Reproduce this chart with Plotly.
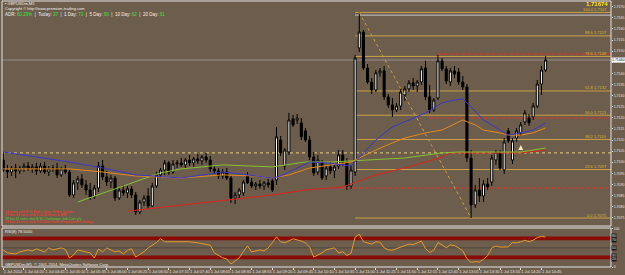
import plotly.graph_objects as go

# ---------------- data ----------------
bar_index = list(range(132))
opens = [1.71010,1.70965,1.70956,1.70974,1.70961,1.70974,1.70983,1.70970,1.70979,1.70961,
         1.70983,1.70956,1.70970,1.70974,1.70943,1.70970,1.70956,1.70853,1.70907,1.70925,
         1.70898,1.70875,1.70844,1.70884,1.70983,1.70934,1.70911,1.70929,1.70839,1.70875,
         1.70862,1.70880,1.70853,1.70776,1.70821,1.70848,1.70803,1.70893,1.70943,1.70965,
         1.70997,1.70956,1.70992,1.70997,1.70988,1.71010,1.70997,1.71015,1.71006,1.71024,
         1.71010,1.70970,1.70961,1.70938,1.70956,1.70929,1.70839,1.70853,1.70862,1.70938,
         1.70911,1.70893,1.70902,1.70893,1.70907,1.70916,1.70920,1.71100,1.70983,1.71046,
         1.71195,1.71190,1.71177,1.71141,1.71100,1.71024,1.70956,1.70997,1.70938,1.70979,
         1.70961,1.70983,1.71033,1.71001,1.70893,1.70956,1.71514,1.71586,1.71424,1.71361,
         1.71325,1.71402,1.71411,1.71294,1.71258,1.71235,1.71253,1.71303,1.71330,1.71357,
         1.71343,1.71361,1.71424,1.71294,1.71235,1.71289,1.71456,1.71420,1.71361,1.71411,
         1.71406,1.71361,1.71339,1.71019,1.70808,1.70875,1.70848,1.70902,1.70911,1.71010,
         1.71042,1.70965,1.71141,1.71010,1.71109,1.71132,1.71181,1.71199,1.71204,1.71253,
         1.71352,1.71415]
highs = [1.71046,1.70988,1.70983,1.70992,1.70983,1.70997,1.71001,1.70992,1.70997,1.70997,
         1.71001,1.70983,1.70988,1.70997,1.70979,1.70988,1.70965,1.70920,1.70938,1.70947,
         1.70920,1.70907,1.70898,1.71001,1.71010,1.70961,1.70943,1.70938,1.70884,1.70898,
         1.70893,1.70893,1.70866,1.70830,1.70853,1.70884,1.70907,1.70956,1.70974,1.71010,
         1.71006,1.71010,1.71010,1.71019,1.71019,1.71033,1.71024,1.71037,1.71033,1.71042,
         1.71028,1.70983,1.70974,1.70970,1.70974,1.70938,1.70866,1.70884,1.70920,1.70956,
         1.70929,1.70911,1.70920,1.70916,1.70925,1.70929,1.71159,1.71118,1.71064,1.71222,
         1.71213,1.71217,1.71199,1.71154,1.71118,1.71046,1.71033,1.71010,1.70988,1.71001,
         1.70988,1.71055,1.71055,1.71019,1.70988,1.71483,1.71674,1.71595,1.71442,1.71379,
         1.71415,1.71424,1.71433,1.71307,1.71289,1.71267,1.71334,1.71343,1.71370,1.71379,
         1.71370,1.71433,1.71456,1.71348,1.71289,1.71483,1.71469,1.71433,1.71424,1.71433,
         1.71424,1.71388,1.71352,1.71055,1.70898,1.70929,1.70920,1.70929,1.71033,1.71055,
         1.71055,1.71109,1.71154,1.71109,1.71154,1.71181,1.71235,1.71217,1.71267,1.71370,
         1.71433,1.71478]
lows = [1.70956,1.70929,1.70938,1.70929,1.70947,1.70956,1.70961,1.70952,1.70943,1.70952,
        1.70947,1.70938,1.70956,1.70929,1.70934,1.70947,1.70844,1.70839,1.70875,1.70884,
        1.70853,1.70830,1.70835,1.70866,1.70920,1.70893,1.70884,1.70826,1.70830,1.70848,
        1.70839,1.70839,1.70763,1.70767,1.70803,1.70790,1.70799,1.70884,1.70929,1.70943,
        1.70943,1.70947,1.70974,1.70979,1.70974,1.70983,1.70979,1.70992,1.70988,1.70997,
        1.70956,1.70947,1.70925,1.70925,1.70920,1.70817,1.70812,1.70835,1.70848,1.70902,
        1.70884,1.70875,1.70880,1.70875,1.70884,1.70866,1.70898,1.71028,1.70965,1.71033,
        1.71159,1.71172,1.71100,1.71091,1.71010,1.70938,1.70943,1.70920,1.70920,1.70947,
        1.70929,1.70970,1.70983,1.70875,1.70880,1.70938,1.71496,1.71415,1.71352,1.71307,
        1.71316,1.71384,1.71280,1.71244,1.71204,1.71226,1.71235,1.71276,1.71316,1.71325,
        1.71316,1.71348,1.71280,1.71222,1.71226,1.71280,1.71410,1.71352,1.71343,1.71379,
        1.71348,1.71325,1.71001,1.70749,1.70794,1.70821,1.70821,1.70875,1.70893,1.70988,
        1.70965,1.70947,1.71087,1.70992,1.71091,1.71118,1.71168,1.71163,1.71190,1.71244,
        1.71303,1.71406]
closes = [1.70965,1.70956,1.70974,1.70961,1.70974,1.70983,1.70970,1.70979,1.70961,1.70983,
          1.70956,1.70970,1.70974,1.70943,1.70970,1.70956,1.70853,1.70907,1.70925,1.70898,
          1.70875,1.70844,1.70884,1.70983,1.70934,1.70911,1.70929,1.70839,1.70875,1.70862,
          1.70880,1.70853,1.70776,1.70821,1.70839,1.70803,1.70893,1.70943,1.70965,1.70997,
          1.70956,1.70992,1.70997,1.70988,1.71010,1.70997,1.71015,1.71006,1.71024,1.71010,
          1.70970,1.70961,1.70938,1.70956,1.70929,1.70839,1.70853,1.70875,1.70911,1.70907,
          1.70893,1.70902,1.70893,1.70907,1.70898,1.70875,1.71114,1.71042,1.71055,1.71190,
          1.71168,1.71199,1.71114,1.71100,1.71024,1.70952,1.71010,1.70929,1.70974,1.70961,
          1.70979,1.71033,1.71001,1.70893,1.70965,1.71469,1.71586,1.71424,1.71361,1.71325,
          1.71402,1.71411,1.71294,1.71258,1.71235,1.71253,1.71316,1.71330,1.71357,1.71343,
          1.71361,1.71420,1.71294,1.71235,1.71280,1.71456,1.71420,1.71366,1.71411,1.71397,
          1.71361,1.71339,1.71019,1.70808,1.70875,1.70848,1.70902,1.70889,1.71019,1.71046,
          1.70974,1.71091,1.71096,1.71096,1.71141,1.71168,1.71222,1.71177,1.71253,1.71352,
          1.71415,1.71460]

# moving averages, sampled at bar indices
ma_blue_x = [0,8,16,24,32,43,53,59,65,67,71,74,78,84,90,94,98,102,106,109,111,113,116,120,122,125,128,131]
ma_blue_y = [1.71046,1.71024,1.71001,1.70974,1.70943,1.70929,1.70956,1.70943,1.70929,1.70938,
             1.70974,1.71001,1.70997,1.70983,1.71100,1.71159,1.71190,1.71222,1.71267,1.71280,
             1.71285,1.71249,1.71190,1.71145,1.71122,1.71132,1.71145,1.71177]
ma_orange_x = [0,16,24,32,43,53,61,65,69,74,84,90,94,97,102,106,110,111,114,116,120,122,125,128,131]
ma_orange_y = [1.70970,1.70970,1.70956,1.70938,1.70929,1.70943,1.70938,1.70929,1.70943,1.70974,
               1.71001,1.71055,1.71087,1.71109,1.71132,1.71145,1.71181,1.71190,1.71168,1.71145,
               1.71132,1.71122,1.71122,1.71132,1.71154]
ma_green_x = [18,38,43,53,65,73,79,84,97,106,110,125,128,131]
ma_green_y = [1.70821,1.70952,1.70970,1.70988,1.70979,1.71001,1.71001,1.71006,1.71019,1.71042,
              1.71046,1.71046,1.71055,1.71064]
ma_red_x = [30,43,57,65,73,82,90,98,106,108,125,131]
ma_red_y = [1.70780,1.70808,1.70839,1.70853,1.70875,1.70889,1.70943,1.70979,1.71024,1.71042,
            1.71042,1.71055]

# RSI(8)
rsi_x = [0,1,3,4,6,7,8,10,11,12,13,14,15,16,17,18,20,21,22,23,24,25,27,28,29,30,31,32,33,34,
         35,37,38,39,41,43,45,47,50,51,53,54,55,56,57,58,59,60,62,63,64,65,66,67,68,70,71,72,73,74,
         75,77,78,80,81,82,83,84,85,86,87,88,89,90,91,92,93,94,95,96,98,99,100,101,102,103,104,105,
         106,107,108,109,110,111,112,113,114,115,116,117,118,119,120,122,123,124,125,126,127,128,
         129,130,131]
rsi_v = [44.7,36.8,34.2,39.5,44.7,42.1,47.4,39.5,50,44.7,47.4,50,46,23.7,31.6,44.7,39.5,36.8,23.7,47,
         39.5,50,39.5,42,34,44,47.4,26,33,40,50,64,73.7,65.8,66,65.8,66,63.2,57,37,
         24,21,8,16,24,40,55,39.5,44.7,42.1,50,63.2,78.9,66,63.2,73.7,71,68,63.2,52,
         26,37,45,50,36.8,40,30,36,78,86,66,62,60,66,65,50,44.7,44,48,50,
         60,58,62,68,48,38,44,64,58,50,58,56,50,42,22,12,14,13,20,30,
         50,55,52,52.6,64,63.2,65.8,70,66,70,77,80,78.5]
rsi_bands = [(70, 80), (20, 30)]
rsi_label_levels = [80, 70, 50, 30, 20]

# horizontal levels
bid_price = 1.71460
pivot_level = 1.71042
red_levels = [1.71487, 1.71199, 1.70884]
red_level_start = [105, 103, 80]
high_line = 1.71662
fib_ratios = [0.0, 23.6, 38.2, 50.0, 61.8, 78.6, 88.6, 100.0]
fib_start, fib_hi_bar, fib_lo_bar = 85, 86, 113

price_ticks = [1.7075, 1.7080, 1.7085, 1.7090, 1.7095, 1.7100, 1.7105, 1.7110, 1.7115, 1.7120,
               1.7125, 1.7130, 1.7135, 1.7140, 1.7145, 1.7150, 1.7155, 1.7160, 1.7165, 1.7170]
time_tick_bars = [0,5,10,15,20,25,30,35,40,45,50,55,60,65,70,75,80,85,90,95,100,105,110,115,120,125,130]
time_tick_text = ["1 Jul 2014","1 Jul 04:20","1 Jul 04:45","1 Jul 05:10","1 Jul 05:35","1 Jul 06:00",
                  "1 Jul 06:25","1 Jul 06:50","1 Jul 07:15","1 Jul 07:40","1 Jul 08:05","1 Jul 08:30",
                  "1 Jul 08:55","1 Jul 09:20","1 Jul 09:45","1 Jul 10:10","1 Jul 10:35","1 Jul 11:00",
                  "1 Jul 11:25","1 Jul 11:50","1 Jul 12:15","1 Jul 12:40","1 Jul 13:05","1 Jul 13:30",
                  "1 Jul 13:55","1 Jul 14:20","1 Jul 14:45"]
event_lines = ["41 mins until 8:15 Fed's Chair Yellen Speaks",
               "17 hrs 41 mins until 6:00 Bahrain & BIR",
               "29 hrs 41 mins until 8:30 Challenger Job Cuts y/y",
               "41 hrs 41 mins until 8:30 Non-Farm Employment Change"]
event_colors = ["#ff3b2f", "#ff3b2f", "#4fd23a", "#ff3b2f"]
adr_items = [("ADR:", "60.29%"), ("Today:", "37"), ("1 Day:", "73"), ("5 Day:", "69"),
             ("10 Day:", "62"), ("20 Day:", "61")]

# ---------------- style ----------------
BG = "#6d5d4c"
FONT = "Liberation Sans"
X_RANGE = [-0.3, 146.8]
MAIN_DOM = [0.1541, 1.0]
RSI_DOM = [0.0, 0.1466]
FIB_COL = "#c9a045"

fig = go.Figure()

fig.add_trace(go.Candlestick(
    x=bar_index, open=opens, high=highs, low=lows, close=closes,
    xaxis="x2", yaxis="y",
    increasing=dict(fillcolor="#ffffff", line=dict(color="#000000", width=1)),
    decreasing=dict(fillcolor="#000000", line=dict(color="#000000", width=1)),
    showlegend=False, hoverinfo="skip"))

for xs, ys, col in [(ma_red_x, ma_red_y, "#e0221c"), (ma_green_x, ma_green_y, "#86c232"),
                    (ma_orange_x, ma_orange_y, "#e38a1c"), (ma_blue_x, ma_blue_y, "#3a37c8")]:
    fig.add_trace(go.Scatter(x=xs, y=ys, mode="lines", xaxis="x2", yaxis="y",
                             line=dict(color=col, width=1), showlegend=False, hoverinfo="skip"))

hi = max(highs)
lo = min(lows)
fig.add_trace(go.Scatter(x=[fib_hi_bar, fib_lo_bar], y=[hi, lo], mode="lines", xaxis="x2", yaxis="y",
                         line=dict(color=FIB_COL, width=1, dash="dot"), showlegend=False, hoverinfo="skip"))

fig.add_trace(go.Scatter(x=[125], y=[1.71077], mode="markers", xaxis="x2", yaxis="y",
                         marker=dict(symbol="arrow-up", size=5, color="#f3ecc8"),
                         showlegend=False, hoverinfo="skip"))

fig.add_trace(go.Scatter(x=rsi_x, y=rsi_v, mode="lines", xaxis="x", yaxis="y2",
                         line=dict(color="#e49a2a", width=1), showlegend=False, hoverinfo="skip"))

shapes = []
for a, b in rsi_bands:
    shapes.append(dict(type="rect", xref="paper", yref="y2", x0=0, x1=1, y0=a, y1=b,
                       fillcolor="#8a0a06", line=dict(width=0), layer="below"))
shapes.append(dict(type="line", xref="paper", yref="y2", x0=0, x1=1, y0=50, y1=50,
                   line=dict(color="#4d463f", width=1), layer="below"))
shapes.append(dict(type="line", xref="x", yref="y", x0=X_RANGE[0], x1=X_RANGE[1], y0=pivot_level, y1=pivot_level,
                   line=dict(color="#e6d27a", width=1, dash="dot"), layer="below"))
shapes.append(dict(type="line", xref="x", yref="y", x0=X_RANGE[0], x1=X_RANGE[1], y0=bid_price, y1=bid_price,
                   line=dict(color="#8f8f8f", width=1), layer="below"))
for lv, st in zip(red_levels, red_level_start):
    shapes.append(dict(type="line", xref="x", yref="y", x0=st, x1=X_RANGE[1], y0=lv, y1=lv,
                       line=dict(color="#ff2a1e", width=1, dash="dot"), layer="below"))
shapes.append(dict(type="line", xref="x", yref="y", x0=fib_start, x1=X_RANGE[1], y0=high_line, y1=high_line,
                   line=dict(color="#c8ccd2", width=1), layer="below"))
annotations = []
for r in fib_ratios:
    p = lo + (hi - lo) * r / 100.0
    shapes.append(dict(type="line", xref="x", yref="y", x0=fib_start, x1=X_RANGE[1], y0=p, y1=p,
                       line=dict(color=FIB_COL, width=1), layer="below"))
    annotations.append(dict(xref="paper", yref="y", x=0.997, y=p, xanchor="right", yanchor="bottom",
                            text=f"{r:.1f} {p:.4f}", showarrow=False, yshift=-1.5,
                            font=dict(size=4, color="#dcb43a", family=FONT)))
for d in (MAIN_DOM, RSI_DOM):
    shapes.append(dict(type="rect", xref="paper", yref="paper", x0=0, x1=1, y0=d[0], y1=d[1],
                       line=dict(color="#e6e6e6", width=1), fillcolor="rgba(0,0,0,0)"))

def py(img_y):
    return (267 - img_y) / 266.0

def px(img_x):
    return (img_x - 2) / 609.0

annotations.append(dict(xref="paper", yref="paper", x=px(3), y=py(4), xanchor="left", yanchor="middle",
                        text="▪ GBPUSDm,M5", showarrow=False, font=dict(size=4, color="#f0f0f0", family=FONT)))
annotations.append(dict(xref="paper", yref="paper", x=px(3), y=py(8.5), xanchor="left", yanchor="middle",
                        text="Copyright © http://www.premium-trading.com", showarrow=False,
                        font=dict(size=4, color="#f0f0f0", family=FONT)))
adr_text = "  |  ".join(f"{k} <span style='color:#3ee03e'>{v}</span>" for k, v in adr_items)
annotations.append(dict(xref="paper", yref="paper", x=px(3), y=py(14), xanchor="left", yanchor="middle",
                        text=adr_text, showarrow=False, font=dict(size=4.5, color="#f0f0f0", family=FONT)))
annotations.append(dict(xref="paper", yref="paper", x=px(610), y=py(3.6), xanchor="right", yanchor="middle",
                        text=f"<b>{hi:.5f}</b>", showarrow=False,
                        font=dict(size=6, color="#ffe11a", family=FONT)))
annotations.append(dict(xref="paper", yref="y", x=1.0, y=bid_price, xanchor="left", yanchor="middle",
                        text=f"{bid_price:.5f}", showarrow=False, bgcolor="#ffffff", borderpad=0,
                        font=dict(size=3.5, color="#000000", family=FONT)))
for i, (t, c) in enumerate(zip(event_lines, event_colors)):
    annotations.append(dict(xref="paper", yref="paper", x=px(3), y=py(211.5 + 3.6 * i), xanchor="left",
                            yanchor="middle", text=t, showarrow=False,
                            font=dict(size=3.5, color=c, family=FONT)))
annotations.append(dict(xref="paper", yref="paper", x=px(3), y=py(231), xanchor="left", yanchor="middle",
                        text=f"RSI(8) {rsi_v[-1]:.4f}", showarrow=False,
                        font=dict(size=4, color="#f0f0f0", family=FONT)))
annotations.append(dict(xref="paper", yref="paper", x=px(3), y=py(264.5), xanchor="left", yanchor="middle",
                        text="GBPUSDm,M5  © 2001-2014, MetaQuotes Software Corp.", showarrow=False,
                        font=dict(size=4, color="#f0f0f0", family=FONT)))
for lv in rsi_label_levels:
    annotations.append(dict(xref="paper", yref="y2", x=1.0, y=lv, xanchor="left", yanchor="middle",
                            text=str(lv), showarrow=False, bgcolor="#1e1a16", borderpad=0,
                            font=dict(size=3.5, color="#e0e0e0", family=FONT)))

fig.update_layout(
    width=625, height=275,
    margin=dict(l=2, r=14, t=1, b=8, autoexpand=False),
    paper_bgcolor=BG, plot_bgcolor=BG,
    font=dict(family=FONT, color="#e0e0e0", size=4),
    showlegend=False,
    shapes=shapes, annotations=annotations,
    xaxis=dict(domain=[0, 1], anchor="y2", range=X_RANGE, tickmode="array",
               tickvals=time_tick_bars, ticktext=time_tick_text, ticks="outside", ticklen=2,
               tickangle=0, automargin=False,
               tickcolor="#e0e0e0", tickfont=dict(size=4, color="#e6e6e6"),
               ticklabelposition="outside right",
               showgrid=False, zeroline=False, showline=False),
    xaxis2=dict(domain=[0, 1], anchor="y", matches="x", showticklabels=False, ticks="",
                automargin=False,
                showgrid=False, zeroline=False, showline=False, rangeslider=dict(visible=False)),
    yaxis=dict(domain=MAIN_DOM, range=[1.70713, 1.717255], side="right", tickmode="array",
               tickvals=price_ticks, tickformat=".4f", ticks="outside", ticklen=1, automargin=False,
               ticklabelstandoff=0,
               tickcolor="#e0e0e0", tickfont=dict(size=3.5, color="#e6e6e6"),
               showgrid=False, zeroline=False, showline=False),
    yaxis2=dict(domain=RSI_DOM, range=[0, 102], side="right", tickmode="array",
                tickvals=[0, 100], ticks="outside", ticklen=1, tickcolor="#e0e0e0", automargin=False,
                ticklabelstandoff=0,
                tickfont=dict(size=3.5, color="#e6e6e6"),
                showgrid=False, zeroline=False, showline=False),
)

fig.write_html("out.html")
